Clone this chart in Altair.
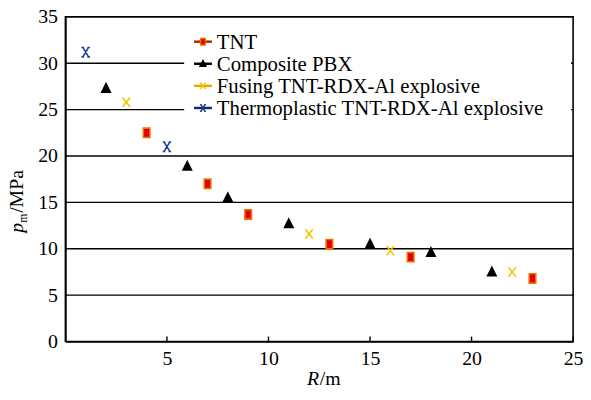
import altair as alt
import pandas as pd

# ---- data ----
series_names = ["TNT", "Composite PBX", "Fusing TNT-RDX-Al explosive",
                "Thermoplastic TNT-RDX-Al explosive"]

tnt_R = [4, 7, 9, 13, 17, 23]
tnt_p = [22.5, 17.0, 13.7, 10.5, 9.1, 6.8]

pbx_R = [2, 6, 8, 11, 15, 18, 21]
pbx_p = [27.3, 18.9, 15.5, 12.7, 10.5, 9.6, 7.5]

fus_R = [3, 12, 16, 22]
fus_p = [25.8, 11.6, 9.8, 7.5]

thp_R = [1, 5]
thp_p = [31.2, 21.0]

x_ticks = [5, 10, 15, 20, 25]
y_ticks = [0, 5, 10, 15, 20, 25, 30, 35]
grid_values = [5, 10, 15, 20, 25, 30]

# ---- style ----
FONT = "Liberation Serif"
W, H = 513, 328
marker_fill = ["#e00000", "#000000", "#f5e400", "#1c3f96"]
marker_stroke = ["#f07000", "#000000", "#f0c800", "#1c3f96"]
line_colors = ["#b02800", "#000000", "#f0a000", "#15257a"]
SQ = "M-0.7,-1H0.7V1H-0.7Z"
TRI = "M0,-1L0.9,0.8H-0.9Z"
XS = "M-0.8,-1L0.8,1M-0.8,1L0.8,-1M-0.3,0H0.3"
AST = "M-0.6,-1L0.6,1M-0.6,1L0.6,-1M-0.9,-1H-0.35M0.35,-1H0.9M-0.9,1H-0.35M0.35,1H0.9"
shapes = [SQ, TRI, XS, AST]

rows = []
for name, Rs, ps in zip(series_names, [tnt_R, pbx_R, fus_R, thp_R],
                        [tnt_p, pbx_p, fus_p, thp_p]):
    for r, p in zip(Rs, ps):
        rows.append({"series": name, "R": r, "p": p})
df = pd.DataFrame(rows)

xscale = alt.Scale(domain=[0, 25], nice=False, zero=True)
yscale = alt.Scale(domain=[0, 35], nice=False, zero=True)

fill_enc = alt.Fill("series:N", scale=alt.Scale(domain=series_names, range=marker_fill), legend=None)
stroke_enc = alt.Stroke("series:N", scale=alt.Scale(domain=series_names, range=marker_stroke), legend=None)
shape_enc = alt.Shape("series:N", scale=alt.Scale(domain=series_names, range=shapes), legend=None)

points = alt.Chart(df).mark_point(filled=False, strokeWidth=1.6, opacity=1, size=90).encode(
    x=alt.X("R:Q", scale=xscale,
            axis=alt.Axis(values=x_ticks, title=None, ticks=False, grid=False,
                          labelPadding=7, labelFlush=False)),
    y=alt.Y("p:Q", scale=yscale,
            axis=alt.Axis(values=y_ticks, title=None, ticks=False, grid=False,
                          labelPadding=8)),
    fill=fill_enc, stroke=stroke_enc, shape=shape_enc,
)

grid = alt.Chart(pd.DataFrame({"g": grid_values})).mark_rule(
    color="black", strokeWidth=1.4).encode(
    y=alt.Y("g:Q", scale=yscale), x=alt.value(0), x2=alt.value(W))

xt = alt.Chart(pd.DataFrame({"t": x_ticks})).mark_rule(
    color="black", strokeWidth=1.4).encode(
    x=alt.X("t:Q", scale=xscale), y=alt.value(H), y2=alt.value(H - 5))

# legend background
leg_bg = alt.Chart(pd.DataFrame({"a": [0]})).mark_rect(color="white").encode(
    x=alt.value(120), x2=alt.value(511), y=alt.value(2), y2=alt.value(120))

# visible part of the 30-MPa gridline to the right of the legend text
grid30 = alt.Chart(pd.DataFrame({"a": [0]})).mark_rule(
    color="black", strokeWidth=1.4).encode(
    x=alt.datum(15.3, scale=xscale), x2=alt.datum(25), y=alt.datum(30, scale=yscale))

leg_df = pd.DataFrame({"series": series_names})
leg_y = alt.Y("series:N", scale=alt.Scale(type="point", domain=series_names,
                                          range=[25, 92], padding=0),
              axis=None)
leg_lines = alt.Chart(leg_df).mark_rule(strokeWidth=2.5).encode(
    x=alt.value(130), x2=alt.value(148), y=leg_y,
    color=alt.Color("series:N", scale=alt.Scale(domain=series_names, range=line_colors),
                    legend=None))
leg_pts = alt.Chart(leg_df).mark_point(filled=False, strokeWidth=1.4, opacity=1, size=45).encode(
    x=alt.value(139), y=leg_y, fill=fill_enc, stroke=stroke_enc, shape=shape_enc)
leg_txt = alt.Chart(leg_df).mark_text(
    align="left", baseline="middle", font=FONT, fontSize=21, color="black", dy=1).encode(
    x=alt.value(153), y=leg_y, text="series:N")

legend_layer = alt.layer(leg_bg, leg_lines, leg_pts, leg_txt)

# axis titles as text pieces (italic symbol, subscript)
one = pd.DataFrame({"a": [0]})
yt_p = alt.Chart(one).mark_text(text="p", font=FONT, fontSize=20, fontStyle="italic",
                                angle=270, align="left", baseline="alphabetic").encode(
    x=alt.value(-43), y=alt.value(218))
yt_m = alt.Chart(one).mark_text(text="m", font=FONT, fontSize=12,
                                angle=270, align="left", baseline="alphabetic").encode(
    x=alt.value(-39), y=alt.value(208))
yt_r = alt.Chart(one).mark_text(text="/MPa", font=FONT, fontSize=20,
                                angle=270, align="left", baseline="alphabetic").encode(
    x=alt.value(-43), y=alt.value(198))
xt_R = alt.Chart(one).mark_text(text="R", font=FONT, fontSize=20, fontStyle="italic",
                                align="left", baseline="alphabetic").encode(
    x=alt.value(244), y=alt.value(372))
xt_m = alt.Chart(one).mark_text(text="/m", font=FONT, fontSize=20,
                                align="left", baseline="alphabetic").encode(
    x=alt.value(257), y=alt.value(372))

main_layer = alt.layer(grid, xt, points, grid30, yt_p, yt_m, yt_r, xt_R, xt_m)

chart = alt.layer(main_layer, legend_layer).resolve_scale(y="independent").properties(
    width=W, height=H,
    autosize=alt.AutoSizeParams(type="none"),
    padding={"left": 58, "top": 7, "right": 10, "bottom": 50},
).configure_view(stroke="black", strokeWidth=1.6).configure_axis(
    domainColor="black", domainWidth=1.6, labelFont=FONT, labelFontSize=20,
    labelColor="black",
)

chart.save("out.html", embed_options={"renderer": "svg", "actions": False})
